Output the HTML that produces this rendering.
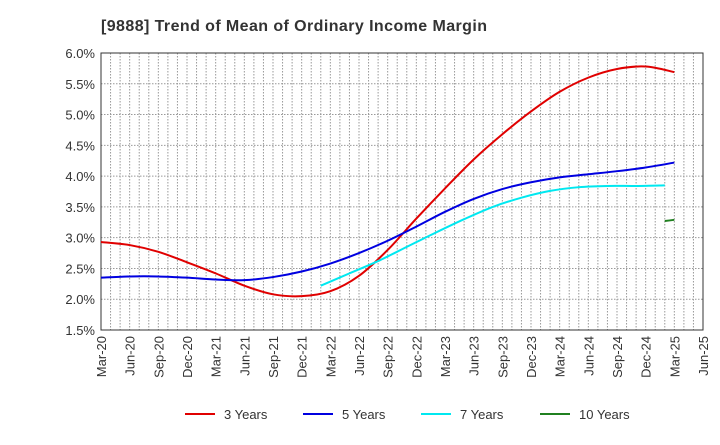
<!DOCTYPE html>
<html><head><meta charset="utf-8"><style>
body{margin:0;background:#fff;font-family:"Liberation Sans",sans-serif}
svg text{font-family:"Liberation Sans",sans-serif}
</style></head><body>
<svg width="720" height="440" id="c">
<text x="101" y="31" font-size="16" font-weight="bold" fill="#333" textLength="386">[9888]  Trend of Mean of Ordinary Income Margin</text>
<g id="grid"></g><g id="axes"></g><g id="series"></g><g id="legend"></g>
</svg>
<script>
const xLabels=["Mar-20","Jun-20","Sep-20","Dec-20","Mar-21","Jun-21","Sep-21","Dec-21","Mar-22","Jun-22","Sep-22","Dec-22","Mar-23","Jun-23","Sep-23","Dec-23","Mar-24","Jun-24","Sep-24","Dec-24","Mar-25","Jun-25"];
const yTicks=[1.5,2.0,2.5,3.0,3.5,4.0,4.5,5.0,5.5,6.0];
const names=["3 Years","5 Years","7 Years","10 Years"];
const colors=["#e00000","#0000e0","#00e8f0","#208020"];
const s3=[2.93,2.88,2.77,2.60,2.42,2.22,2.08,2.05,2.13,2.38,2.80,3.31,3.80,4.27,4.68,5.05,5.37,5.60,5.74,5.78,5.69];
const s5=[2.35,2.37,2.37,2.35,2.32,2.31,2.36,2.45,2.58,2.75,2.95,3.18,3.42,3.63,3.79,3.90,3.98,4.03,4.08,4.14,4.22];
const s7=[2.22,2.42,2.62,2.85,3.08,3.30,3.50,3.65,3.76,3.82,3.84,3.84,3.85];
const s10=[3.27,3.29];
const s7start=23, s10start=59;
const L=101,R=703,T=53,B=330;
const x=m=>L+(R-L)*m/63;
const y=v=>B-(B-T)*(v-1.5)/4.5;
const NS="http://www.w3.org/2000/svg";
function mk(tag,attrs,parent){const e=document.createElementNS(NS,tag);for(const k in attrs)e.setAttribute(k,attrs[k]);parent.appendChild(e);return e;}
const grid=document.getElementById('grid'),axes=document.getElementById('axes'),ser=document.getElementById('series'),leg=document.getElementById('legend');
for(let m=1;m<63;m++){const l=mk('line',{x1:x(m),x2:x(m),y1:T,y2:B,stroke:'#999','stroke-width':1,'stroke-dasharray':'1.5,1.5'},grid);

}
yTicks.forEach(v=>{const l=mk('line',{x1:L,x2:R,y1:y(v),y2:y(v),stroke:'#999','stroke-width':1,'stroke-dasharray':'1.5,1.5'},grid);


const t=mk('text',{x:L-6,y:y(v)+5,'text-anchor':'end','font-size':13,fill:'#333'},axes);t.textContent=v.toFixed(1)+'%';

});
const fr=mk('rect',{x:L,y:T,width:R-L,height:B-T,fill:'none',stroke:'#333','stroke-width':1},axes);


xLabels.forEach((lab,i)=>{const px=x(i*3);const t=mk('text',{x:0,y:0,'text-anchor':'end','font-size':13,fill:'#333',transform:`translate(${px+5},${B+6}) rotate(-90)`},axes);t.textContent=lab;

});
function path(pts){let d=`M${pts[0][0]},${pts[0][1]}`;for(let i=0;i<pts.length-1;i++){const p0=pts[i-1]||pts[i],p1=pts[i],p2=pts[i+1],p3=pts[i+2]||p2;
d+=` C${p1[0]+(p2[0]-p0[0])/6},${p1[1]+(p2[1]-p0[1])/6} ${p2[0]-(p3[0]-p1[0])/6},${p2[1]-(p3[1]-p1[1])/6} ${p2[0]},${p2[1]}`;}return d;}
const all=[[s3,0,3],[s5,0,3],[s7,s7start,3],[s10,s10start,1]];
all.forEach(([s,st,step],k)=>{const pts=s.map((v,i)=>[x(Math.min(60,st+i*step)),y(v)]);const p=mk('path',{d:path(pts),fill:'none',stroke:colors[k],'stroke-width':2},ser);

});
const lx=[185,303,421,540];
names.forEach((n,k)=>{const g=mk('g',{},leg);


mk('line',{x1:lx[k],x2:lx[k]+30,y1:414,y2:414,stroke:colors[k],'stroke-width':2},g);
const t=mk('text',{x:lx[k]+39,y:419,'font-size':13,fill:'#333'},g);t.textContent=n;});
</script>
</body></html>
